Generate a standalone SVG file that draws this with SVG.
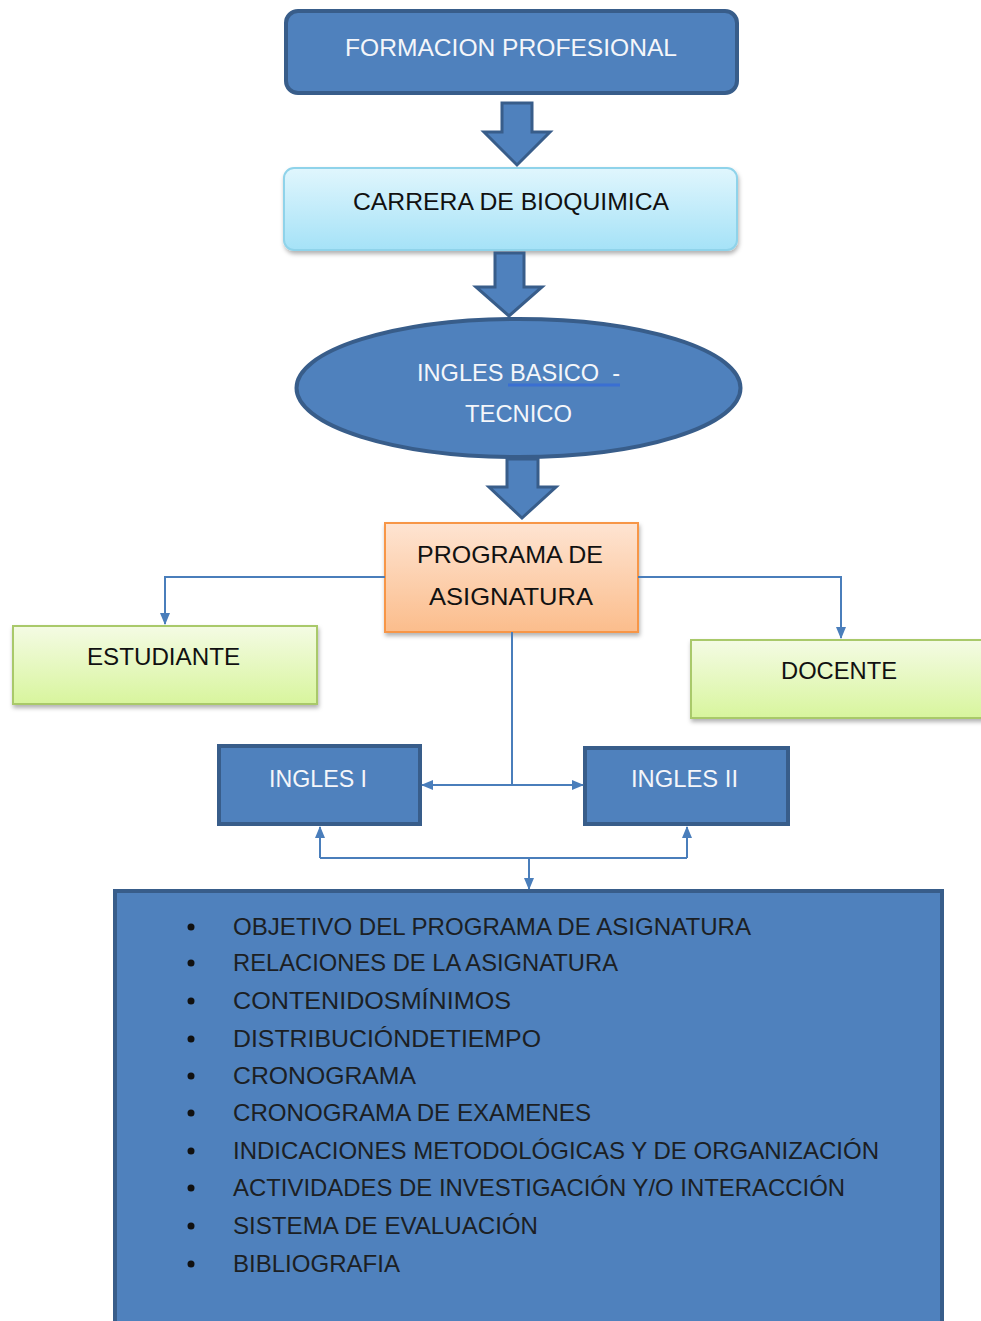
<svg xmlns="http://www.w3.org/2000/svg" width="981" height="1321" viewBox="0 0 981 1321">
<style>
.t{font-family:"Liberation Sans",Arial,sans-serif;font-size:24px;text-anchor:middle}
.w{fill:#f4f6fa}
.k{fill:#111}
.li{font-family:"Liberation Sans",Arial,sans-serif;font-size:24px;fill:#1c1f24}
.blue{fill:#4f81bd;stroke:#385d8a;stroke-width:4}
.barrow{fill:#4f81bd;stroke:#385d8a;stroke-width:3;stroke-linejoin:miter}
.con{fill:none;stroke:#4a7ebb;stroke-width:2}
</style>
<defs>
<linearGradient id="gc" x1="0" y1="0" x2="0" y2="1"><stop offset="0" stop-color="#e0f6fd"/><stop offset="1" stop-color="#a5e2f7"/></linearGradient>
<linearGradient id="go" x1="0" y1="0" x2="0" y2="1"><stop offset="0" stop-color="#fee4d2"/><stop offset="1" stop-color="#fbbd8c"/></linearGradient>
<linearGradient id="gg" x1="0" y1="0" x2="0" y2="1"><stop offset="0" stop-color="#f4fbe4"/><stop offset="1" stop-color="#d8f59d"/></linearGradient>
<filter id="sh" x="-10%" y="-10%" width="120%" height="130%"><feDropShadow dx="1" dy="3" stdDeviation="2" flood-color="#000" flood-opacity="0.3"/></filter>
<marker id="ah" markerWidth="12" markerHeight="10" refX="11" refY="5" orient="auto" markerUnits="userSpaceOnUse"><path d="M0,0 L12,5 L0,10 Z" fill="#4a7ebb"/></marker>
</defs>

<g id="formacion">
<rect x="286" y="11" width="451" height="82" rx="12" class="blue"/>
<text class="t w" x="511" y="56" textLength="332" lengthAdjust="spacingAndGlyphs">FORMACION PROFESIONAL</text>
</g>

<g id="carrera">
<rect x="284" y="168" width="453" height="82" rx="10" fill="url(#gc)" stroke="#8fd3ea" stroke-width="2" filter="url(#sh)"/>
<text class="t k" x="511" y="210" textLength="316" lengthAdjust="spacingAndGlyphs">CARRERA DE BIOQUIMICA</text>
</g>

<g id="ingles-basico">
<ellipse cx="518.5" cy="388" rx="222" ry="69" class="blue"/>
<text class="t w" x="417" y="381" textLength="203" lengthAdjust="spacingAndGlyphs" style="text-anchor:start;white-space:pre" xml:space="preserve">INGLES BASICO  -</text>
<line x1="508" y1="385" x2="620" y2="385" stroke="#3a6fd2" stroke-width="3"/>
<text class="t w" x="518.5" y="422" textLength="107" lengthAdjust="spacingAndGlyphs">TECNICO</text>
</g>

<g id="programa">
<rect x="385" y="523" width="253" height="109" fill="url(#go)" stroke="#f79646" stroke-width="2" filter="url(#sh)"/>
<text class="t k" x="510" y="563" textLength="186" lengthAdjust="spacingAndGlyphs">PROGRAMA DE</text>
<text class="t k" x="511" y="605" textLength="164" lengthAdjust="spacingAndGlyphs">ASIGNATURA</text>
</g>

<g id="estudiante">
<rect x="13" y="626" width="304" height="78" fill="url(#gg)" stroke="#a9c96a" stroke-width="2" filter="url(#sh)"/>
<text class="t k" x="163.5" y="665" textLength="153" lengthAdjust="spacingAndGlyphs">ESTUDIANTE</text>
</g>

<g id="docente">
<rect x="691" y="640" width="300" height="78" fill="url(#gg)" stroke="#a9c96a" stroke-width="2" filter="url(#sh)"/>
<text class="t k" x="839" y="679" textLength="116" lengthAdjust="spacingAndGlyphs">DOCENTE</text>
</g>

<g id="ingles1">
<rect x="219" y="746" width="201" height="78" class="blue"/>
<text class="t w" x="318" y="787" textLength="98" lengthAdjust="spacingAndGlyphs">INGLES I</text>
</g>

<g id="ingles2">
<rect x="585" y="748" width="203" height="76" class="blue"/>
<text class="t w" x="684.5" y="787" textLength="107" lengthAdjust="spacingAndGlyphs">INGLES II</text>
</g>

<g id="contenido">
<rect x="115" y="891" width="827" height="450" class="blue"/>
<g fill="#111">
<circle cx="191" cy="927" r="3.5"/><circle cx="191" cy="963" r="3.5"/><circle cx="191" cy="1001" r="3.5"/><circle cx="191" cy="1039" r="3.5"/><circle cx="191" cy="1076" r="3.5"/><circle cx="191" cy="1113" r="3.5"/><circle cx="191" cy="1151" r="3.5"/><circle cx="191" cy="1188" r="3.5"/><circle cx="191" cy="1226" r="3.5"/><circle cx="191" cy="1264" r="3.5"/>
</g>
<text class="li" x="233" y="935" textLength="518" lengthAdjust="spacingAndGlyphs">OBJETIVO DEL PROGRAMA DE ASIGNATURA</text>
<text class="li" x="233" y="971" textLength="385" lengthAdjust="spacingAndGlyphs">RELACIONES DE LA ASIGNATURA</text>
<text class="li" x="233" y="1009" textLength="278" lengthAdjust="spacingAndGlyphs">CONTENIDOSMÍNIMOS</text>
<text class="li" x="233" y="1047" textLength="308" lengthAdjust="spacingAndGlyphs">DISTRIBUCIÓNDETIEMPO</text>
<text class="li" x="233" y="1084" textLength="183" lengthAdjust="spacingAndGlyphs">CRONOGRAMA</text>
<text class="li" x="233" y="1121" textLength="358" lengthAdjust="spacingAndGlyphs">CRONOGRAMA DE EXAMENES</text>
<text class="li" x="233" y="1159" textLength="646" lengthAdjust="spacingAndGlyphs">INDICACIONES METODOLÓGICAS Y DE ORGANIZACIÓN</text>
<text class="li" x="233" y="1196" textLength="612" lengthAdjust="spacingAndGlyphs">ACTIVIDADES DE INVESTIGACIÓN Y/O INTERACCIÓN</text>
<text class="li" x="233" y="1234" textLength="305" lengthAdjust="spacingAndGlyphs">SISTEMA DE EVALUACIÓN</text>
<text class="li" x="233" y="1272" textLength="167" lengthAdjust="spacingAndGlyphs">BIBLIOGRAFIA</text>
</g>

<g id="connectors">
<path class="barrow" d="M502,103 L532,103 L532,132 L550,132 L517,165 L484,132 L502,132 Z"/>
<path class="barrow" d="M495,253 L524,253 L524,287 L542,287 L509,316 L476,287 L495,287 Z"/>
<path class="barrow" d="M507,459 L538,459 L538,487 L556,487 L522,518 L489,487 L507,487 Z"/>
<path class="con" d="M385,577 H165 V624" marker-end="url(#ah)"/>
<path class="con" d="M638,577 H841 V638" marker-end="url(#ah)"/>
<path class="con" d="M512,632 V785"/>
<path class="con" d="M512,785 H422" marker-end="url(#ah)"/>
<path class="con" d="M512,785 H583" marker-end="url(#ah)"/>
<path class="con" d="M320,858 H687"/>
<path class="con" d="M320,858 V827" marker-end="url(#ah)"/>
<path class="con" d="M687,858 V827" marker-end="url(#ah)"/>
<path class="con" d="M529,858 V889" marker-end="url(#ah)"/>
</g>
</svg>
